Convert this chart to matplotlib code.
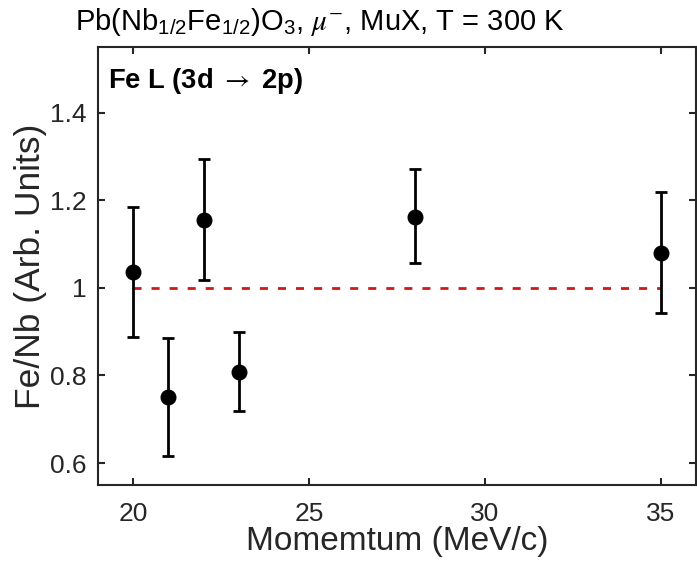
import numpy as np
import matplotlib.pyplot as plt

plt.rcParams['font.family'] = ['Liberation Sans', 'DejaVu Sans']
plt.rcParams['mathtext.fontset'] = 'stix'

# data
momentum = [20, 21, 22, 23, 28, 35]
ratio = [1.037, 0.750, 1.156, 0.808, 1.163, 1.080]
err_low = [0.149, 0.134, 0.139, 0.090, 0.107, 0.138]
err_high = [0.148, 0.135, 0.139, 0.091, 0.109, 0.138]
ref_x = [20, 35]
ref_y = [1, 1]

dark = (0.15, 0.15, 0.15)

fig = plt.figure(figsize=(6.97, 5.67), dpi=100)
ax = fig.add_axes([98/697, 1 - 485/567, 598/697, 438/567])

ax.plot(ref_x, ref_y, '--', color=(0.8, 0.1, 0.1), linewidth=2, dashes=(2.9, 3.6))
ax.errorbar(momentum, ratio, yerr=[err_low, err_high], fmt='o', color='black',
            markersize=10.5, elinewidth=2, capsize=4, capthick=2)

ax.set_xlim(19, 36)
ax.set_ylim(0.55, 1.55)
ax.set_xticks([20, 25, 30, 35])
ax.set_yticks([0.6, 0.8, 1.0, 1.2, 1.4])
ax.set_yticklabels(['0.6', '0.8', '1', '1.2', '1.4'])
ax.tick_params(direction='in', top=True, right=True, labelsize=19, width=1.5,
               length=5, colors=dark)
ax.tick_params(axis='x', pad=12)
ax.tick_params(axis='y', pad=8)
for s in ax.spines.values():
    s.set_linewidth(1.5)
    s.set_color(dark)

ax.set_xlabel('Momemtum (MeV/c)', fontsize=24, color=dark, labelpad=0)
ax.set_ylabel('Fe/Nb (Arb. Units)', fontsize=25.5, color=dark, labelpad=2)

ax.text(0.017, 0.923, r'Fe L (3d $\rightarrow$ 2p)', transform=ax.transAxes,
        fontsize=19.7, fontweight='bold', va='center', ha='left')

fig.text(75/697, 1 - 22/567,
         r'Pb(Nb$\mathregular{_{1/2}}$Fe$\mathregular{_{1/2}}$)O$\mathregular{_3}$, '
         r'$\mu^{-}$, MuX, T = 300 K',
         fontsize=21, va='center', ha='left', color='black')

fig.savefig('out.png', dpi=100)
